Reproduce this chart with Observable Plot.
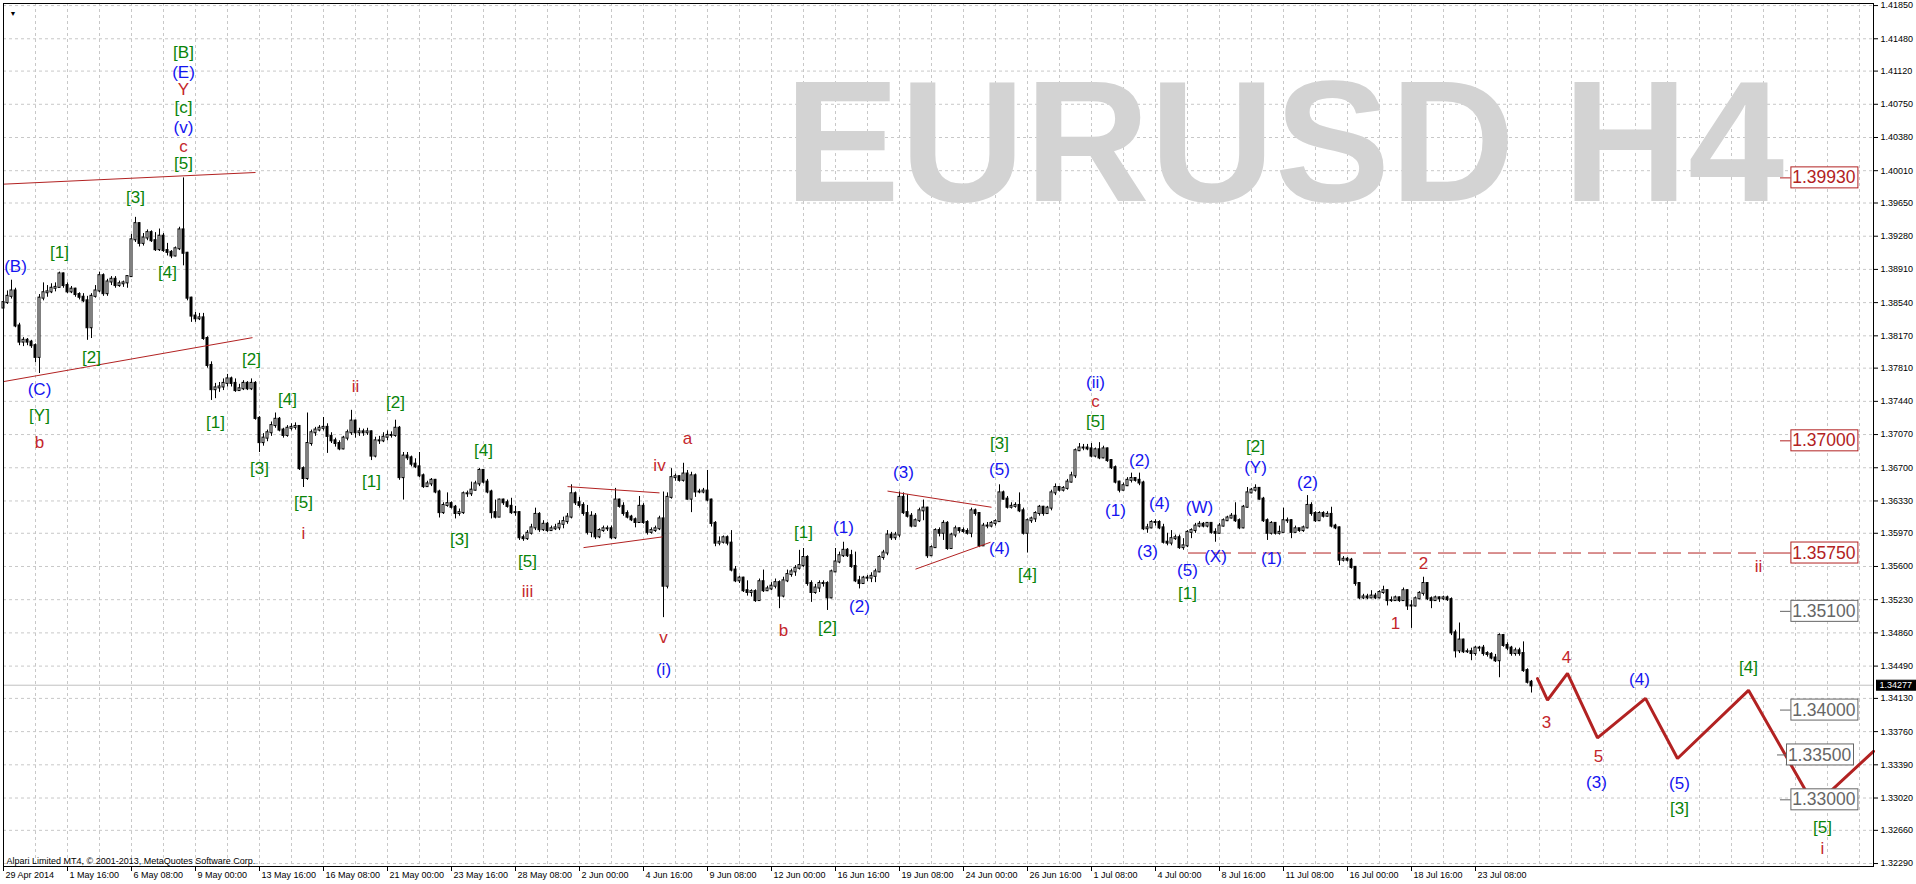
<!DOCTYPE html>
<html><head><meta charset="utf-8">
<script src="https://cdn.jsdelivr.net/npm/d3@7"></script>
<script src="https://cdn.jsdelivr.net/npm/@observablehq/plot@0.6"></script>
<style>html,body{margin:0;padding:0;background:#fff;overflow:hidden}</style>
</head><body>
<div id="chart"></div>
<script>
// ---- DATA (prices in pips, 1 pip = 0.0001) ----
const firstOpenPips = 13848;
const closePips = [
13854,13861,13867,13828,13810,13812,13810,13806,13793,13859,13865,13866,13870,13871,13886,13873,13866,13869,13863,13860,
13856,13826,13861,13867,13884,13864,13877,13880,13873,13875,13876,13883,13924,13942,13920,13926,13932,13923,13913,13928,
13912,13910,13906,13914,13935,13909,13859,13839,13836,13837,13814,13784,13757,13759,13760,13764,13769,13764,13756,13758,
13764,13758,13764,13725,13698,13703,13709,13717,13724,13712,13706,13714,13715,13716,13669,13658,13697,13709,13712,13714,
13715,13705,13700,13697,13691,13703,13709,13722,13709,13710,13709,13710,13683,13700,13700,13704,13706,13706,13714,13659,
13683,13681,13674,13671,13661,13649,13652,13656,13643,13620,13628,13630,13626,13619,13620,13641,13641,13645,13652,13667,
13654,13643,13620,13615,13634,13631,13627,13620,13620,13592,13591,13597,13603,13618,13601,13607,13600,13602,13603,13607,
13610,13615,13641,13631,13628,13619,13598,13616,13593,13600,13602,13602,13592,13634,13627,13619,13615,13612,13609,13627,
13609,13598,13600,13602,13613,13538,13637,13659,13660,13656,13663,13635,13661,13643,13643,13644,13634,13608,13586,13587,
13592,13586,13556,13544,13547,13533,13531,13532,13522,13543,13533,13535,13538,13542,13527,13544,13551,13554,13558,13561,
13570,13541,13531,13536,13541,13541,13525,13554,13565,13572,13578,13572,13560,13544,13541,13547,13547,13549,13554,13570,
13575,13595,13592,13595,13637,13620,13616,13605,13611,13622,13625,13572,13581,13600,13597,13608,13580,13595,13602,13600,
13599,13597,13622,13619,13583,13605,13605,13608,13610,13642,13635,13626,13627,13628,13622,13597,13611,13613,13619,13626,
13619,13625,13642,13648,13645,13647,13654,13661,13689,13692,13692,13691,13683,13690,13681,13691,13678,13670,13654,13645,
13650,13656,13658,13656,13653,13602,13603,13609,13609,13603,13587,13586,13591,13592,13581,13583,13598,13600,13605,13607,
13605,13608,13598,13597,13605,13611,13614,13616,13611,13603,13626,13642,13645,13647,13635,13611,13597,13608,13597,13598,
13611,13611,13598,13602,13600,13603,13628,13619,13611,13619,13616,13618,13605,13603,13567,13568,13567,13559,13541,13525,
13526,13525,13527,13525,13531,13533,13522,13522,13525,13522,13533,13516,13516,13524,13530,13541,13524,13522,13525,13524,
13525,13523,13486,13466,13478,13465,13465,13463,13469,13469,13463,13462,13458,13455,13483,13472,13469,13463,13466,13463,
13444,13431,13427];
const highPips = [
13859,13867,13879,13870,13831,13815,13814,13812,13808,13863,13876,13873,13875,13876,13888,13887,13876,13872,13870,13865,
13864,13861,13864,13873,13888,13886,13880,13883,13883,13878,13878,13884,13930,13949,13943,13931,13935,13934,13932,13936,
13931,13920,13912,13916,13938,13993,13910,13860,13843,13842,13842,13816,13788,13764,13765,13769,13774,13771,13769,13763,
13767,13766,13769,13766,13727,13708,13712,13721,13731,13726,13714,13717,13719,13720,13717,13671,13731,13712,13715,13717,
13726,13719,13709,13703,13700,13705,13712,13734,13723,13714,13713,13714,13711,13704,13705,13709,13711,13710,13723,13716,
13687,13687,13683,13680,13687,13663,13655,13658,13657,13645,13631,13642,13632,13628,13624,13643,13644,13654,13655,13669,
13668,13657,13645,13634,13635,13635,13634,13636,13627,13621,13595,13600,13607,13625,13620,13611,13609,13605,13607,13611,
13615,13619,13651,13643,13637,13631,13628,13621,13619,13602,13605,13605,13605,13647,13635,13631,13622,13617,13614,13638,
13630,13611,13603,13605,13616,13643,13642,13669,13663,13661,13675,13667,13665,13663,13646,13647,13667,13635,13610,13593,
13594,13594,13600,13560,13549,13548,13544,13534,13534,13546,13556,13538,13542,13546,13544,13548,13556,13557,13561,13578,
13580,13572,13544,13540,13544,13544,13543,13556,13580,13576,13587,13580,13578,13576,13549,13549,13550,13553,13557,13572,
13578,13600,13598,13598,13643,13642,13640,13619,13613,13625,13634,13626,13583,13602,13603,13611,13610,13597,13605,13603,
13603,13602,13625,13624,13620,13608,13609,13610,13612,13651,13644,13638,13631,13631,13642,13625,13613,13615,13621,13628,
13627,13627,13645,13652,13649,13649,13657,13665,13691,13697,13696,13696,13697,13692,13698,13694,13692,13679,13672,13655,
13653,13659,13664,13659,13664,13655,13607,13611,13612,13611,13607,13597,13600,13595,13595,13591,13600,13602,13608,13610,
13609,13609,13607,13602,13608,13613,13616,13619,13631,13613,13628,13648,13647,13651,13648,13637,13613,13610,13609,13605,
13625,13614,13612,13605,13602,13605,13639,13631,13621,13621,13621,13621,13626,13607,13604,13571,13570,13569,13560,13542,
13529,13529,13533,13530,13533,13538,13534,13526,13527,13526,13536,13534,13522,13526,13532,13548,13542,13526,13527,13526,
13527,13527,13525,13489,13497,13479,13468,13469,13471,13471,13472,13465,13464,13462,13485,13484,13475,13471,13469,13469,
13476,13446,13433];
const lowPips = [
13845,13852,13858,13826,13806,13805,13806,13803,13787,13775,13856,13860,13864,13866,13871,13870,13864,13864,13860,13857,
13854,13812,13814,13859,13865,13861,13861,13873,13870,13871,13871,13870,13882,13921,13916,13917,13923,13921,13911,13911,
13910,13906,13903,13905,13912,13895,13856,13832,13832,13834,13812,13781,13745,13747,13754,13756,13760,13760,13754,13755,
13756,13756,13756,13723,13687,13694,13699,13705,13714,13710,13703,13704,13711,13712,13667,13648,13656,13694,13705,13710,
13711,13686,13697,13693,13689,13690,13700,13706,13703,13705,13705,13706,13678,13681,13696,13698,13700,13703,13704,13656,
13634,13678,13671,13669,13659,13647,13648,13649,13641,13614,13618,13626,13624,13613,13616,13618,13637,13638,13644,13649,
13652,13641,13613,13613,13616,13628,13625,13618,13616,13589,13588,13589,13595,13600,13598,13599,13598,13599,13600,13600,
13602,13607,13613,13628,13625,13616,13595,13592,13590,13591,13598,13599,13590,13590,13625,13616,13613,13610,13603,13608,
13607,13595,13596,13598,13600,13503,13535,13635,13655,13654,13654,13634,13620,13637,13641,13641,13632,13604,13582,13583,
13585,13583,13554,13542,13541,13531,13527,13526,13520,13521,13531,13532,13533,13535,13513,13525,13542,13548,13549,13556,
13559,13538,13520,13529,13531,13537,13511,13524,13553,13563,13570,13570,13558,13542,13535,13540,13543,13542,13542,13553,
13567,13572,13589,13589,13592,13618,13614,13603,13604,13609,13611,13569,13571,13580,13593,13589,13578,13579,13592,13597,
13597,13595,13592,13616,13581,13583,13602,13603,13605,13609,13634,13624,13624,13625,13620,13595,13575,13608,13609,13616,
13616,13618,13622,13639,13643,13643,13645,13653,13658,13688,13689,13689,13681,13681,13679,13680,13676,13668,13652,13642,
13644,13649,13653,13654,13650,13600,13597,13602,13605,13601,13585,13583,13583,13589,13579,13578,13581,13591,13597,13603,
13603,13603,13596,13587,13596,13604,13610,13613,13609,13601,13602,13625,13641,13643,13634,13609,13589,13595,13595,13595,
13598,13608,13591,13597,13598,13598,13602,13616,13609,13610,13614,13615,13603,13601,13561,13565,13565,13557,13538,13523,
13523,13523,13524,13523,13524,13529,13516,13520,13521,13520,13521,13511,13491,13515,13523,13527,13522,13513,13521,13520,
13522,13521,13483,13458,13463,13463,13463,13455,13460,13465,13460,13459,13456,13453,13436,13470,13466,13460,13460,13460,
13442,13429,13419];

const xTickBars = [0,16,32,48,64,80,96,112,128,144,160,176,192,208,224,240,256,272,288,304,320,336,352,368];
const xTickLabels = ["29 Apr 2014","1 May 16:00","6 May 08:00","9 May 00:00","13 May 16:00","16 May 08:00","21 May 00:00",
  "23 May 16:00","28 May 08:00","2 Jun 00:00","4 Jun 16:00","9 Jun 08:00","12 Jun 00:00","16 Jun 16:00","19 Jun 08:00",
  "24 Jun 00:00","26 Jun 16:00","1 Jul 08:00","4 Jul 00:00","8 Jul 16:00","11 Jul 08:00","16 Jul 00:00","18 Jul 16:00","23 Jul 08:00"];
const yTickValues = [1.4185,1.4148,1.4112,1.4075,1.4038,1.4001,1.3965,1.3928,1.3891,1.3854,1.3817,1.3781,1.3744,1.3707,
  1.3670,1.3633,1.3597,1.3560,1.3523,1.3486,1.3449,1.3413,1.3376,1.3339,1.3302,1.3266,1.3229];
const currentPrice = 1.34277;
const symbolText = "EURUSD H4";
const copyrightText = "Alpari Limited MT4, \u00a9 2001-2013, MetaQuotes Software Corp.";

// Elliott wave labels: text, bar index, price (pips), colour kind
const waveText = ["[B]","(E)","Y","[c]","(v)","c","[5]","[3]","[1]","(B)","[4]","[2]","(C)","[Y]","b","[2]","[1]","[4]","[3]","[5]",
  "i","ii","[2]","[1]","[4]","[3]","[5]","iii","iv","a","v","(i)","b","[1]","[2]","(1)","(2)","(3)","(ii)","c",
  "[5]","[3]","(5)","(4)","[4]","(2)","(1)","(4)","(3)","(W)","(5)","[1]","(X)","[2]","(Y)","(1)","(2)","1","2","ii",
  "3","4","5","(3)","(4)","(5)","[3]","[4]","[5]","i"];
const waveBar = [45,45,45,45,45,45,45,33,14,3,41,22,9,9,9,62,53,71,64,75,
  75,88,98,92,120,114,131,131,164,171,165,165,195,200,206,210,214,225,273,273,
  273,249,249,249,256,284,278,289,286,299,296,296,303,313,313,317,326,348,355,438.75,
  385.75,390.75,398.75,398.25,409,419,419,436.25,454.75,454.75];
const wavePips = [14133,14110,14091,14071,14049,14028,14009,13971,13910,13894,13887,13793,13757,13728,13698,13791,13720,13746,13669,13631,
  13597,13761,13743,13655,13689,13590,13565,13532,13672,13703,13481,13445,13489,13598,13492,13603,13515,13665,13765,13744,
  13722,13697,13668,13580,13551,13678,13622,13630,13577,13626,13555,13530,13571,13694,13670,13569,13653,13496,13563,13560,
  13386,13459,13348,13319,13434,13318,13290,13447,13269,13246];
const waveKind = ["g","b","r","g","b","r","g","g","g","b","g","g","b","g","r","g","g","g","g","g",
  "r","r","g","g","g","g","g","r","r","r","r","b","r","g","g","b","b","b","b","r",
  "g","g","b","b","g","b","b","b","b","b","b","g","b","g","b","b","b","r","r","r",
  "r","r","r","b","b","b","g","g","g","r"];

// trend lines / triangles (bar, pips)
const trendX1 = [0, 0, 141, 145, 221, 228];
const trendY1 = [13986, 13766, 13649, 13581, 13644, 13557];
const trendX2 = [63, 62.25, 164, 164.75, 247, 246.75];
const trendY2 = [13999, 13815, 13642, 13593, 13626, 13587];

// projected wave path (bar, pips)
const projBar = [383.5, 386, 391, 398.5, 410.5, 418.5, 436.25, 452.75, 467.5];
const projPips = [13435, 13411, 13441, 13369, 13413, 13346, 13422, 13293, 13354];

// price level boxes
const boxPrice = [1.3993, 1.3700, 1.3575, 1.3510, 1.3400, 1.3350, 1.3300];
const boxKind = ["r","r","r","g","g","g","g"];
const boxBar = [455.1, 455.1, 455.1, 455.1, 455.1, 454, 455.1];
const boxTickFrom = [444.25, 444.25, 444.25, 444.25, 444.25, 443.5, 444.25];
const boxTickTo = [446.9, 446.9, 446.9, 446.9, 446.9, 445.75, 446.9];
const levelPrice = 1.3575, levelFrom = 296.25, levelTo = 444.25;

// ---- BUILD ----
const bars = closePips.map((c, i) => ({
  bar: i,
  open: (i === 0 ? firstOpenPips : closePips[i - 1]) / 1e4,
  high: highPips[i] / 1e4,
  low: lowPips[i] / 1e4,
  close: c / 1e4
}));
const up = bars.filter(d => d.close >= d.open);
const down = bars.filter(d => d.close < d.open);
const waves = waveText.map((t, i) => ({text: t, bar: waveBar[i], price: wavePips[i] / 1e4, kind: waveKind[i]}));
const trends = trendX1.map((x, i) => ({x1: x, y1: trendY1[i] / 1e4, x2: trendX2[i], y2: trendY2[i] / 1e4}));
const proj = projBar.map((b, i) => ({bar: b, price: projPips[i] / 1e4}));
const boxes = boxPrice.map((p, i) => ({price: p, kind: boxKind[i], bar: boxBar[i], from: boxTickFrom[i], to: boxTickTo[i]}));
const xTicks = xTickBars.map((b, i) => ({bar: b, label: xTickLabels[i]}));

const GRID = "#c8c8c8", RED = "#c4262b", GREEN = "#0a840a", BLUE = "#1414f0", LRED = "#b22222", BGRAY = "#666666";
const FONT = "Liberation Sans, Arial, sans-serif";

const chart = Plot.plot({
  width: 1916, height: 884,
  marginLeft: 3, marginRight: 43, marginTop: 3, marginBottom: 18,
  style: {fontFamily: FONT, fontSize: "9px", background: "white", color: "black"},
  x: {type: "linear", domain: [0, 467.5], axis: "bottom", ticks: xTickBars, tickFormat: () => "", tickSize: 5, label: null},
  y: {type: "linear", domain: [1.32257, 1.41873], axis: "right", ticks: yTickValues, tickFormat: d => d.toFixed(5), tickSize: 4, tickPadding: 3, label: null},
  marks: [
    Plot.ruleX(d3.range(8, 468, 8), {stroke: GRID, strokeDasharray: "3,3"}),
    Plot.ruleY(yTickValues, {stroke: GRID, strokeDasharray: "3,3"}),
    Plot.text([symbolText], {frameAnchor: "top-left", dx: 781, dy: 197, textAnchor: "start", lineAnchor: "bottom",
      fontSize: 173, fontWeight: "bold", fontFamily: FONT, fill: "#d3d3d3"}),
    Plot.ruleY([currentPrice], {stroke: "#c0c0c0"}),
    Plot.ruleX(bars, {x: "bar", y1: "low", y2: "high", stroke: "black", strokeWidth: 1}),
    Plot.rect(up, {x1: d => d.bar - 0.25, x2: d => d.bar + 0.25, y1: "open", y2: "close", fill: "white", stroke: "black", insetTop: -0.5, insetBottom: -0.5}),
    Plot.rect(down, {x1: d => d.bar - 0.25, x2: d => d.bar + 0.25, y1: "open", y2: "close", fill: "black", stroke: "black", insetTop: -0.5, insetBottom: -0.5}),
    Plot.link(trends, {x1: "x1", y1: "y1", x2: "x2", y2: "y2", stroke: LRED, strokeWidth: 1}),
    Plot.ruleY([levelPrice], {x1: levelFrom, x2: levelTo, stroke: LRED, strokeDasharray: "18,7"}),
    Plot.line(proj, {x: "bar", y: "price", stroke: LRED, strokeWidth: 3, strokeLinejoin: "miter"}),
    Plot.text(waves.filter(d => d.kind === "g"), {x: "bar", y: "price", text: "text", fill: GREEN, fontSize: 17, fontFamily: FONT}),
    Plot.text(waves.filter(d => d.kind === "b"), {x: "bar", y: "price", text: "text", fill: BLUE, fontSize: 17, fontFamily: FONT}),
    Plot.text(waves.filter(d => d.kind === "r"), {x: "bar", y: "price", text: "text", fill: RED, fontSize: 17, fontFamily: FONT}),
    Plot.ruleY(boxes.filter(d => d.kind === "r"), {y: "price", x1: "from", x2: "to", stroke: LRED}),
    Plot.ruleY(boxes.filter(d => d.kind === "g"), {y: "price", x1: "from", x2: "to", stroke: BGRAY}),
    Plot.text(boxes.filter(d => d.kind === "r"), {x: "bar", y: "price", text: d => d.price.toFixed(5), fill: LRED, fontSize: 17.5, fontFamily: FONT, ariaDescription: "box-red"}),
    Plot.text(boxes.filter(d => d.kind === "g"), {x: "bar", y: "price", text: d => d.price.toFixed(5), fill: BGRAY, fontSize: 17.5, fontFamily: FONT, ariaDescription: "box-gray"}),
    Plot.frame({stroke: "black"}),
    Plot.text(xTicks, {x: "bar", text: "label", frameAnchor: "bottom", textAnchor: "start", lineAnchor: "top", dx: 2, dy: 5, fontSize: 9, fill: "black"}),
    Plot.text([copyrightText], {frameAnchor: "bottom-left", textAnchor: "start", lineAnchor: "bottom", dx: 3, dy: -3, fontSize: 9, fill: "black"}),
    Plot.text(["\u25BC"], {frameAnchor: "top-left", dx: 6, dy: 8, fontSize: 7, fill: "black"}),
    Plot.text([currentPrice], {y: d => d, text: d => d.toFixed(5), frameAnchor: "right", dx: 6, textAnchor: "start", fontSize: 9, fill: "white", ariaDescription: "current-price"})
  ]
});
document.getElementById("chart").append(chart);

function addBoxes(label, fill, stroke, padX, padY) {
  const texts = new Set();
  chart.querySelectorAll(`[aria-description="${label}"]`).forEach(el => {
    if (el.tagName.toLowerCase() === "text") texts.add(el);
    else el.querySelectorAll("text").forEach(t => texts.add(t));
  });
  texts.forEach(t => {
    const b = t.getBBox();
    const r = document.createElementNS("http://www.w3.org/2000/svg", "rect");
    r.setAttribute("x", Math.round(b.x - padX));
    r.setAttribute("y", Math.round(b.y - padY));
    r.setAttribute("width", Math.round(b.width + 2 * padX));
    r.setAttribute("height", Math.round(b.height + 2 * padY));
    r.setAttribute("fill", fill);
    r.setAttribute("stroke", stroke);
    r.setAttribute("stroke-width", 1);
    const tr = t.getAttribute("transform");
    if (tr) r.setAttribute("transform", tr);
    t.parentNode.insertBefore(r, t);
  });
}
addBoxes("box-red", "white", LRED, 1.5, 0.5);
addBoxes("box-gray", "white", BGRAY, 1.5, 0.5);
addBoxes("current-price", "black", "black", 3, 0);
</script>
</body></html>
